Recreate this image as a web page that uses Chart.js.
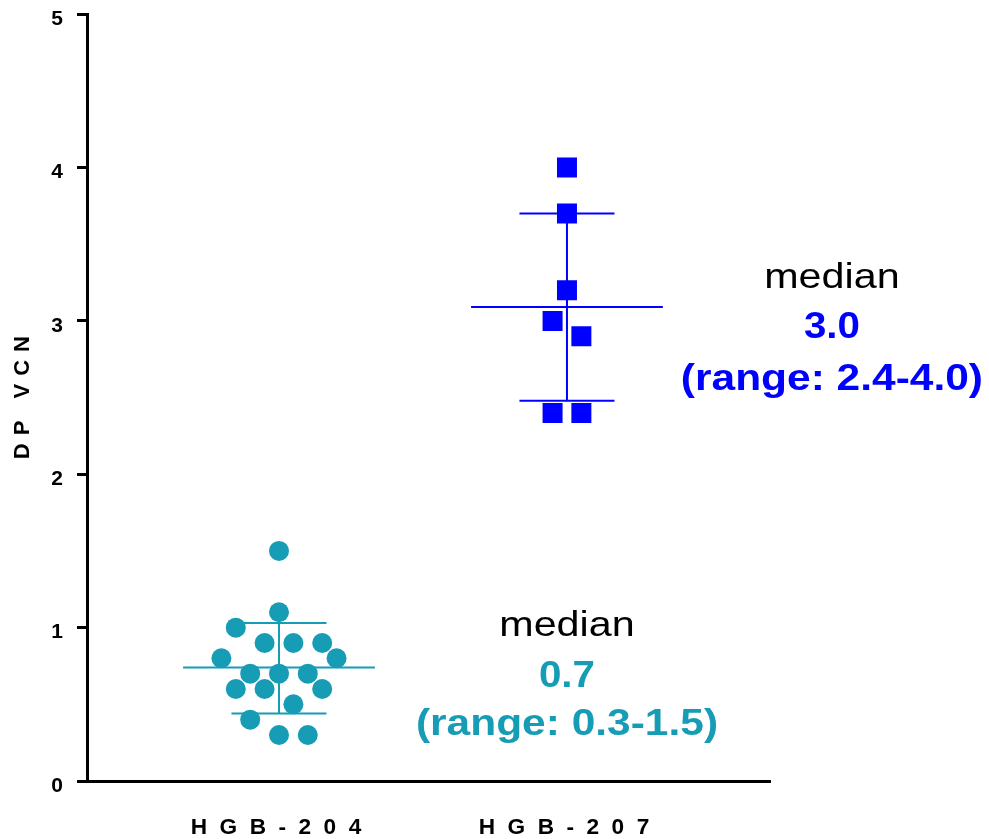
<!DOCTYPE html>
<html>
<head>
<meta charset="utf-8">
<script src="https://cdn.jsdelivr.net/npm/chart.js@4.4.1/dist/chart.umd.min.js"></script>
<style>
  html, body { margin: 0; padding: 0; background: #fff; }
</style>
</head>
<body>
<canvas id="vcn" width="989" height="839"></canvas>
<script>
// categories and tick labels
const categories = ['HGB-204', 'HGB-207'];
const categoryLabels = ['H G B - 2 0 4', 'H G B - 2 0 7'];
const yTicks = [0, 1, 2, 3, 4, 5];

// individual DP VCN values, with the horizontal jitter slot of each dot
const hgb204Vcn = [1.5, 1.1, 1.0, 0.9, 0.9, 0.9, 0.8, 0.8, 0.7, 0.7, 0.7, 0.6, 0.6, 0.6, 0.5, 0.4, 0.3, 0.3];
const hgb204Jitter = [0, 0, -3, -1, 1, 3, -4, 4, -2, 0, 2, -3, -1, 3, 1, -2, 0, 2];
const hgb207Vcn = [4.0, 3.7, 3.2, 3.0, 2.9, 2.4, 2.4];
const hgb207Jitter = [0, 0, 0, -1, 1, -1, 1];

// mean +/- SD bars
const meanVcn = [0.74, 3.09];
const sdLowVcn = [0.44, 2.48];
const sdHighVcn = [1.03, 3.70];

// median annotations
const medianText = ['0.7', '3.0'];
const rangeText = ['(range: 0.3-1.5)', '(range: 2.4-4.0)'];

const FONT = '"Liberation Sans", Arial, Helvetica, sans-serif';
const colors = ['#179CB5', '#0000FF'];
const JITTER_STEP = 0.05;

function points(values, jitter, slot) {
  return values.map((v, i) => ({ x: slot + jitter[i] * JITTER_STEP, y: v }));
}

function segment(x1, x2, y1, y2, color) {
  return {
    data: [{ x: x1, y: y1 }, { x: x2, y: y2 }],
    showLine: true,
    borderColor: color,
    borderWidth: 2,
    pointRadius: 0,
    pointHoverRadius: 0
  };
}

const datasets = [];
categories.forEach((cat, i) => {
  const slot = i + 1;
  const c = colors[i];
  datasets.push(segment(slot - 0.333, slot + 0.333, meanVcn[i], meanVcn[i], c));
  datasets.push(segment(slot - 0.165, slot + 0.165, sdHighVcn[i], sdHighVcn[i], c));
  datasets.push(segment(slot - 0.165, slot + 0.165, sdLowVcn[i], sdLowVcn[i], c));
  datasets.push(segment(slot, slot, sdLowVcn[i], sdHighVcn[i], c));
});

datasets.push({
  label: categories[0],
  data: points(hgb204Vcn, hgb204Jitter, 1),
  pointStyle: 'circle',
  pointRadius: 10,
  pointBorderWidth: 0,
  backgroundColor: colors[0],
  borderColor: colors[0]
});
datasets.push({
  label: categories[1],
  data: points(hgb207Vcn, hgb207Jitter, 2),
  pointStyle: 'rect',
  pointRadius: 14.14,
  pointBorderWidth: 0,
  backgroundColor: colors[1],
  borderColor: colors[1]
});

// axis labels with letter spacing + the stretched median notes
const textPlugin = {
  id: 'vcnText',
  afterDraw(chart) {
    const { ctx, chartArea } = chart;
    const x = chart.scales.x, y = chart.scales.y;

    ctx.save();
    ctx.fillStyle = '#000';
    ctx.textAlign = 'center';
    ctx.textBaseline = 'alphabetic';
    ctx.letterSpacing = '3px';
    categoryLabels.forEach((lab, i) => {
      ctx.save();
      ctx.translate(x.getPixelForValue(i + 1) - 3, chartArea.bottom + 53);
      ctx.scale(1.03, 1);
      ctx.font = 'bold 22px ' + FONT;
      ctx.fillText(lab, 1.5, 0);
      ctx.restore();
    });

    ctx.translate(23, (chartArea.top + chartArea.bottom) / 2);
    ctx.rotate(-Math.PI / 2);
    ctx.font = 'bold 22px ' + FONT;
    ctx.letterSpacing = '8px';
    ctx.textBaseline = 'middle';
    ctx.fillText('DP VCN', 4, 0);
    ctx.restore();

    const anchors = [
      { x: 2.0, y: [0.945, 0.613, 0.30] },
      { x: 2.92, y: [3.214, 2.888, 2.549] }
    ];
    const note = (text, px, py, font, color, sx) => {
      ctx.save();
      ctx.translate(px, py);
      ctx.scale(sx, 1);
      ctx.font = font;
      ctx.fillStyle = color;
      ctx.textAlign = 'center';
      ctx.textBaseline = 'alphabetic';
      ctx.fillText(text, 0, 0);
      ctx.restore();
    };
    anchors.forEach((a, i) => {
      const px = x.getPixelForValue(a.x);
      note('median', px, y.getPixelForValue(a.y[0]), '35px ' + FONT, '#000', 1.18);
      note(medianText[i], px, y.getPixelForValue(a.y[1]), 'bold 36px ' + FONT, colors[i], 1.12);
      note(rangeText[i], px, y.getPixelForValue(a.y[2]), 'bold 36px ' + FONT, colors[i], 1.18);
    });
  }
};

new Chart(document.getElementById('vcn'), {
  type: 'scatter',
  data: { datasets: datasets },
  options: {
    responsive: false,
    animation: false,
    layout: { padding: { top: 14, right: 219, left: 0, bottom: 0 } },
    plugins: {
      legend: { display: false },
      tooltip: { enabled: false }
    },
    scales: {
      x: {
        type: 'linear',
        min: 1 / 3,
        max: 2.705,
        ticks: { display: false },
        grid: { display: false },
        border: { color: '#000', width: 3 },
        afterFit: s => { s.height = 58; s.paddingLeft = 0; s.paddingRight = 0; }
      },
      y: {
        min: 0,
        max: 5,
        afterBuildTicks: s => { s.ticks = yTicks.map(v => ({ value: v })); },
        ticks: {
          color: '#000',
          padding: 14,
          labelOffset: 5,
          font: { family: FONT, size: 21, weight: 'bold' }
        },
        grid: {
          drawOnChartArea: false,
          drawTicks: true,
          tickLength: 10,
          tickWidth: 3,
          tickColor: '#000'
        },
        border: { color: '#000', width: 3 },
        afterFit: s => { s.width = 87; s.paddingTop = 0; s.paddingBottom = 0; }
      }
    }
  },
  plugins: [textPlugin]
});
</script>
</body>
</html>
